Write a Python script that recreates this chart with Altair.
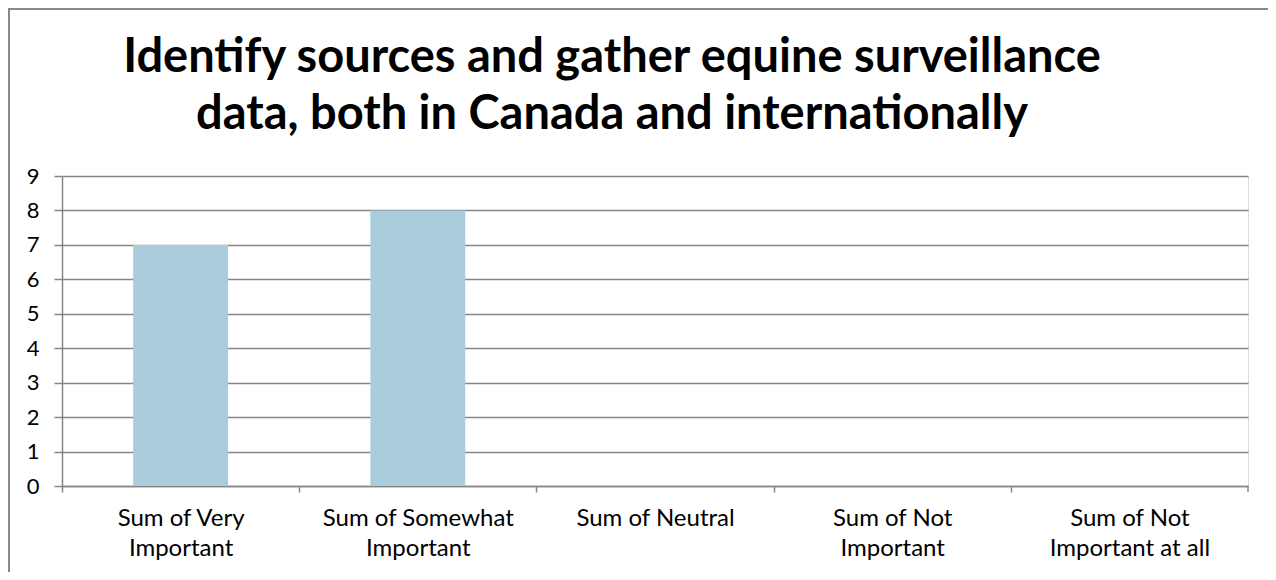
import altair as alt
import pandas as pd

categories = ["Sum of Very\nImportant", "Sum of Somewhat\nImportant", "Sum of Neutral",
              "Sum of Not\nImportant", "Sum of Not\nImportant at all"]
values = [7, 8, 0, 0, 0]
y_ticks = list(range(0, 10))
title_lines = ["Identify sources and gather equine surveillance",
               "data, both in Canada and internationally"]

W, H = 1186, 310
PAD_L, PAD_T = 54, 168
CANVAS_W, CANVAS_H = 1260, 564
GREY = "#868686"
FONT = "Lato"

df = pd.DataFrame({"category": categories, "value": values})
step = W / len(categories)

bars = alt.Chart(df).mark_bar(color="#A9CDDC").encode(
    x=alt.X("category:N", sort=categories, title=None,
            scale=alt.Scale(paddingInner=0.6, paddingOuter=0.3),
            axis=alt.Axis(labelAngle=0, labelExpr="split(datum.label, '\\n')",
                          labelFontSize=24, labelFont=FONT, labelColor="#000000",
                          labelLineHeight=30, labelPadding=14, labelLimit=0,
                          tickOffset=-step / 2, labelOffset=step / 2,
                          tickSize=6, tickColor=GREY, tickWidth=1.5,
                          domainColor=GREY, domainWidth=1.5, grid=False)),
    y=alt.Y("value:Q", title=None,
            scale=alt.Scale(domain=[0, 9], nice=False),
            axis=alt.Axis(values=y_ticks, labelFontSize=22, labelFont=FONT,
                          labelColor="#000000", labelPadding=15,
                          tickSize=8, tickColor=GREY, tickWidth=1.5,
                          domainColor=GREY, domainWidth=1.5,
                          grid=True, gridColor=GREY, gridWidth=1.5)),
)

one = alt.Data(values=[{"k": 1}])
last_tick = alt.Chart(one).mark_rule(color=GREY, strokeWidth=1.5).encode(
    x=alt.value(W), y=alt.value(H), y2=alt.value(H + 6))
border_top = alt.Chart(one).mark_rule(color="#898989", strokeWidth=2).encode(
    x=alt.value(-PAD_L), x2=alt.value(CANVAS_W - PAD_L), y=alt.value(-PAD_T + 1))
border_left = alt.Chart(one).mark_rule(color="#898989", strokeWidth=2).encode(
    x=alt.value(-PAD_L + 1), y=alt.value(-PAD_T), y2=alt.value(CANVAS_H - PAD_T))
title = alt.Chart(one).mark_text(
    text=title_lines, font=FONT, fontSize=47, fontWeight="bold", color="#000000",
    lineHeight=57, align="center", baseline="alphabetic").encode(
    x=alt.value(612 - 62), y=alt.value(72 - 176))

chart = alt.layer(bars, last_tick, border_top, border_left, title).properties(
    width=W, height=H,
    autosize=alt.AutoSizeParams(type="none"),
    padding={"left": PAD_L, "top": PAD_T, "right": CANVAS_W - PAD_L - W,
             "bottom": CANVAS_H - PAD_T - H},
).configure_view(stroke=None).configure(background="white")

chart.save("out.html", embed_options={"renderer": "svg", "actions": False})
